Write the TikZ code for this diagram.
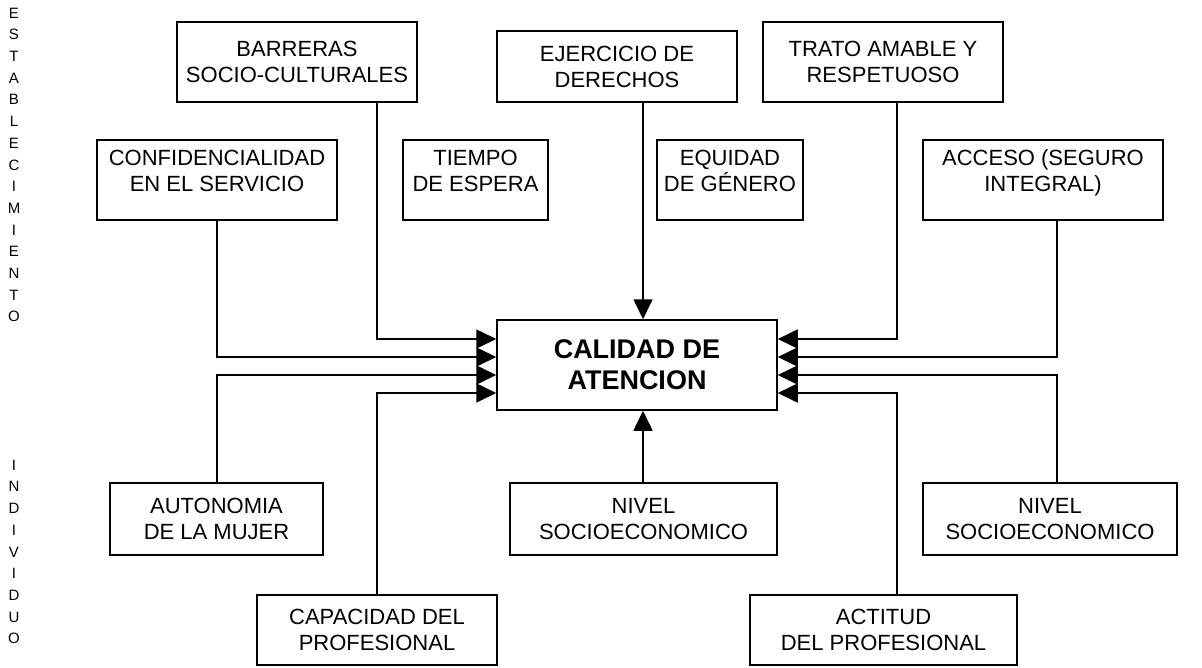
\documentclass[tikz,border=0pt]{standalone}
\usepackage{fontspec}
\setmainfont{Liberation Sans}
\usetikzlibrary{arrows.meta}
\newcommand{\lowpad}{\rule[-18pt]{0pt}{18pt}}
\begin{document}
\begin{tikzpicture}[x=1pt,y=-1pt,
  box/.style={draw,line width=1.5pt,inner sep=0pt,align=center,font=\fontsize{22}{26}\selectfont},
  mainbox/.style={draw,line width=1.5pt,inner sep=0pt,align=center,font=\fontsize{27}{31}\selectfont\bfseries},
  vlabel/.style={inner sep=0pt,align=center,font=\fontsize{15}{21.7}\selectfont},
  conn/.style={line width=1.6pt,-{Triangle[length=20pt,width=19pt]}}]
\useasboundingbox (0,0) rectangle (1202,667);
% side labels
\node[vlabel] (est) at (14,165) {E\\S\\T\\A\\B\\L\\E\\C\\I\\M\\I\\E\\N\\T\\O};
\node[vlabel] (ind) at (14,552) {I\\N\\D\\I\\V\\I\\D\\U\\O};
% central
\node[mainbox,minimum width=280pt,minimum height=90pt] (c) at (637,365) {CALIDAD DE\\ATENCION};
% row 1
\node[box,minimum width=240pt,minimum height=80pt] (barr) at (297,62) {BARRERAS\\SOCIO-CULTURALES};
\node[box,minimum width=240pt,minimum height=71pt] (ejer) at (617,66.5) {EJERCICIO DE\\DERECHOS};
\node[box,minimum width=240pt,minimum height=80pt] (trato) at (883,62) {TRATO AMABLE Y\\RESPETUOSO};
% row 2
\node[box,minimum width=240pt,minimum height=80pt] (conf) at (217,180) {CONFIDENCIALIDAD\\EN EL SERVICIO\lowpad};
\node[box,minimum width=145pt,minimum height=80pt] (tiem) at (475.5,180) {TIEMPO\\DE ESPERA\lowpad};
\node[box,minimum width=146pt,minimum height=80pt] (equi) at (730,180) {EQUIDAD\\DE GÉNERO\lowpad};
\node[box,minimum width=240pt,minimum height=80pt] (acc) at (1043,180) {ACCESO (SEGURO\\INTEGRAL)\lowpad};
% row 3
\node[box,minimum width=213pt,minimum height=72pt] (auto) at (216.5,519) {AUTONOMIA\\DE LA MUJER};
\node[box,minimum width=267pt,minimum height=72pt] (nivm) at (643.5,519) {NIVEL\\SOCIOECONOMICO};
\node[box,minimum width=254pt,minimum height=72pt] (nivr) at (1050,519) {NIVEL\\SOCIOECONOMICO};
% row 4
\node[box,minimum width=240pt,minimum height=70pt] (cap) at (377,630) {CAPACIDAD DEL\\PROFESIONAL};
\node[box,minimum width=267pt,minimum height=70pt] (act) at (883.5,630) {ACTITUD\\DEL PROFESIONAL};
% helper coordinates
\coordinate (xa) at (217,0);
\coordinate (xb) at (377,0);
\coordinate (xm) at (643,0);
\coordinate (xc) at (897,0);
\coordinate (xd) at (1057,0);
\coordinate (y1) at (0,339);
\coordinate (y2) at (0,357);
\coordinate (y3) at (0,375);
\coordinate (y4) at (0,393);
% left connectors
\draw[conn] (barr.south -| xb) |- (c.west |- y1);
\draw[conn] (conf.south -| xa) |- (c.west |- y2);
\draw[conn] (auto.north -| xa) |- (c.west |- y3);
\draw[conn] (cap.north -| xb) |- (c.west |- y4);
% right connectors
\draw[conn] (trato.south -| xc) |- (c.east |- y1);
\draw[conn] (acc.south -| xd) |- (c.east |- y2);
\draw[conn] (nivr.north -| xd) |- (c.east |- y3);
\draw[conn] (act.north -| xc) |- (c.east |- y4);
% vertical connectors
\draw[conn] (ejer.south -| xm) -- (c.north -| xm);
\draw[conn] (nivm.north -| xm) -- (c.south -| xm);
\end{tikzpicture}
\end{document}
